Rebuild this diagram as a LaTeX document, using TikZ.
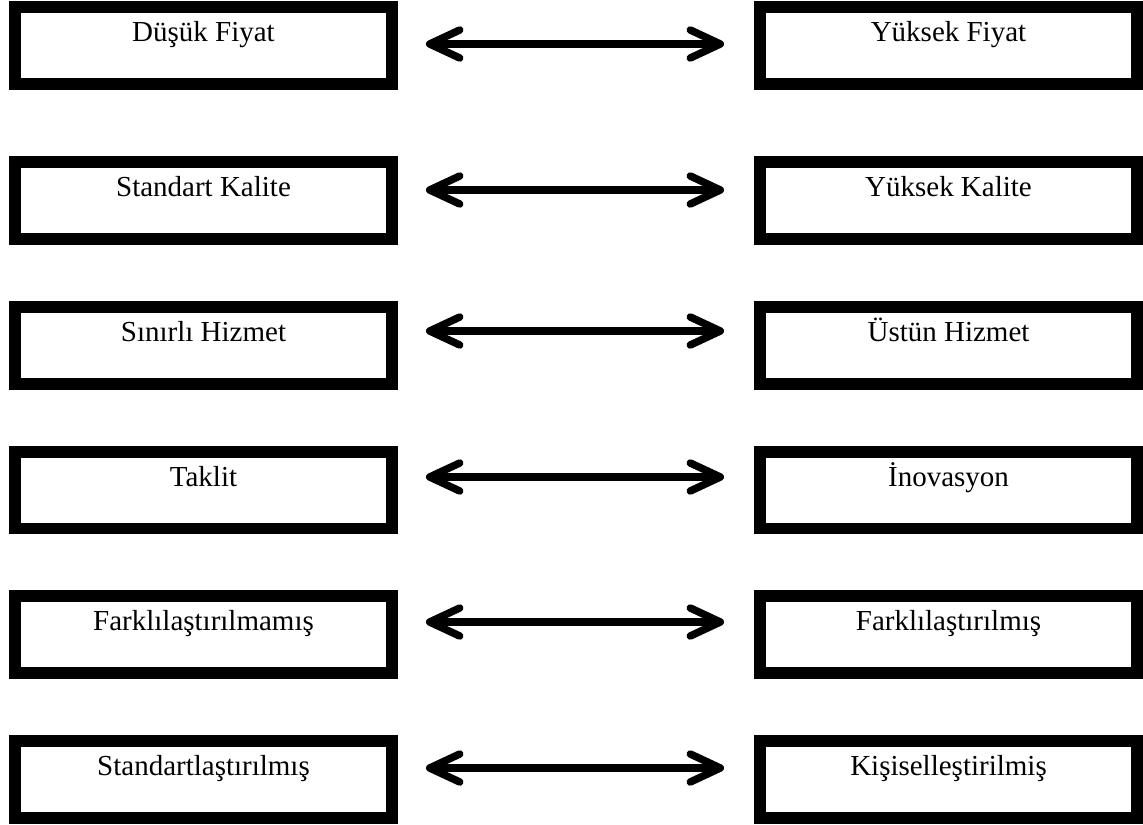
\documentclass[tikz,border=0pt]{standalone}
\usepackage{fontspec}
\setmainfont{Liberation Serif}
\usepackage{tikz}
\usetikzlibrary{positioning}
\usetikzlibrary{arrows.meta,calc}
\tikzset{
    % Define arrow style
    pil/.style={
           {Straight Barb[length=0.6cm,width=0.56cm,line cap=round,line join=round]}-{Straight Barb[length=0.6cm,width=0.56cm,line cap=round,line join=round]},
           color=black,
           line width=0.15cm,
           shorten <=0.68cm,
           shorten >=0.72cm,}
}
\newcommand{\boxheight}{1.54cm}

\begin{document}
\begin{tikzpicture}[x=0.02cm, y=-0.02cm, outer sep = 0pt]
\tikzstyle{kutu}=[draw=black, fill=white, rectangle, line width=0.24cm,
    minimum height=\boxheight, minimum width=7.54cm, align=center,
    text height=0.3cm, text depth=0.46cm, inner sep=0pt,
    font=\fontsize{16.5}{20}\selectfont]
%
\useasboundingbox (0,0) rectangle (1143,825);
%
\node[kutu] (dusuk)   at (203.5,45.5) {Düşük Fiyat};
\node[kutu] (yuksek)  at (948.5,45.5) {Yüksek Fiyat};
\node[kutu] (stdkal)  at (203.5,200.5) {Standart Kalite};
\node[kutu] (yukkal)  at (948.5,200.5) {Yüksek Kalite};
\node[kutu] (sinirli) at (203.5,345.5) {Sınırlı Hizmet};
\node[kutu] (ustun)   at (948.5,345.5) {Üstün Hizmet};
\node[kutu] (taklit)  at (203.5,490) {Taklit};
\node[kutu] (inov)    at (948.5,490) {İnovasyon};
\node[kutu] (farksiz) at (203.5,634.5) {Farklılaştırılmamış};
\node[kutu] (farkli)  at (948.5,634.5) {Farklılaştırılmış};
\node[kutu] (std)     at (203.5,779.5) {Standartlaştırılmış};
\node[kutu] (kisi)    at (948.5,779.5) {Kişiselleştirilmiş};

\draw[pil] ([yshift=0.03cm]dusuk.east) -- ([yshift=0.03cm]yuksek.west);
\draw[pil] ([yshift=0.21cm]stdkal.east) -- ([yshift=0.21cm]yukkal.west);
\draw[pil] ([yshift=0.29cm]sinirli.east) -- ([yshift=0.29cm]ustun.west);
\draw[pil] ([yshift=0.26cm]taklit.east) -- ([yshift=0.26cm]inov.west);
\draw[pil] ([yshift=0.25cm]farksiz.east) -- ([yshift=0.25cm]farkli.west);
\draw[pil] ([yshift=0.23cm]std.east) -- ([yshift=0.23cm]kisi.west);

\end{tikzpicture}
\end{document}
